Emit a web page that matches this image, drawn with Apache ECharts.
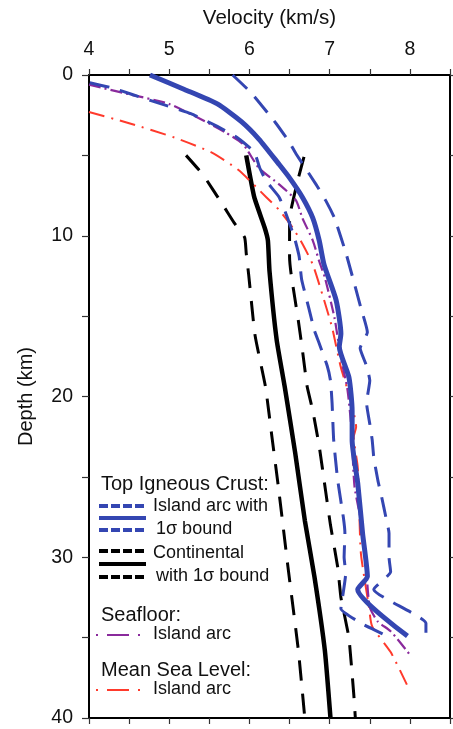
<!DOCTYPE html>
<html>
<head>
<meta charset="utf-8">
<script src="https://cdn.jsdelivr.net/npm/echarts@6/dist/echarts.min.js"></script>
<style>
html,body{margin:0;padding:0;background:#fff;}
#chart{width:453px;height:729px;}
</style>
</head>
<body>
<div id="chart"></div>
<script>
// ---- Data (depth km, velocity km/s) ----
const iaMeanDepth = [0,0.9,1.8,2.9,4.0,5.5,6.4,7.6,8.9,10.3,11.8,14,16.1,16.9,18.8,20.9,22.7,25.4,28.5,31.2,32.0,34.9];
const iaMeanVel   = [4.76,5.19,5.6,5.9,6.12,6.36,6.5,6.66,6.79,6.87,6.93,7.08,7.14,7.12,7.24,7.28,7.28,7.35,7.41,7.47,7.35,7.97];

const iaUpperDepth = [0,1.1,3.0,4.2,4.9,6.8,7.8,8.9,11.2,14.5,16,17,18.1,19,20.4,21.7,22.7,23.8,25.2,26.3,27.5,28.5,30,30.9,32,34.1,34.7];
const iaUpperVel   = [5.79,6.02,6.33,6.5,6.58,6.83,6.95,7.06,7.21,7.39,7.47,7.38,7.46,7.5,7.46,7.5,7.53,7.55,7.6,7.65,7.7,7.74,7.74,7.76,7.55,8.2,8.2];

const iaLowerDepth = [0.48,0.79,1.2,1.8,2.4,3.2,3.9,4.8,5.8,6.6,7.6,8.7,10.1,11.3,12.7,14.5,15.9,16.7,18.1,19,20.4,22.7,25.2,27.5,28.5,30,31,32.5,33.2,34.1,34.5,35];
const iaLowerVel   = [4.01,4.28,4.53,4.9,5.27,5.6,5.85,6.06,6.13,6.21,6.37,6.46,6.56,6.62,6.65,6.74,6.81,6.87,6.97,7.01,7.03,7.05,7.1,7.17,7.19,7.18,7.2,7.16,7.14,7.39,7.55,7.76];

const contMeanDepth = [5.0,7.6,9.5,10.3,12.2,16.5,19.4,23.5,27.7,31.2,35.8,40];
const contMeanVel   = [5.96,6.06,6.19,6.23,6.25,6.34,6.44,6.57,6.69,6.81,6.94,7.01];

const contLowerDepth = [5.0,6.2,8.1,9.2,10.1,11.1,12.4,16.2,19.4,22.5,25.6,30.6,35.8,40];
const contLowerVel   = [5.21,5.42,5.67,5.81,5.94,5.96,5.99,6.07,6.2,6.28,6.36,6.48,6.61,6.69];

const contUpperDepth = [5.1,6.6,8.9,9.9,11.3,12.4,15.3,17.1,19.4,20.9,23.1,25.9,28,30.6,32.5,35,38.5,40];
const contUpperVel   = [6.68,6.6,6.5,6.5,6.5,6.52,6.61,6.66,6.72,6.79,6.87,6.95,7.01,7.1,7.14,7.24,7.3,7.32];

const seafloorDepth = [0.6,1.2,1.8,3.1,3.6,4.3,5.8,6.8,7.8,8.9,10.3,11.6,12.6,15.1,17.6,19.5,21.9,25.6,28.5,31,33.1,34,34.6,36];
const seafloorVel   = [4.0,4.5,5.0,5.53,5.71,5.92,6.12,6.37,6.58,6.66,6.79,6.87,6.94,7.06,7.14,7.22,7.27,7.31,7.42,7.46,7.5,7.6,7.76,7.99];

const mslDepth = [2.3,3.0,3.9,4.8,5.9,7.6,8.4,9.5,10.5,11.8,14,15.7,18.2,20.2,21.9,22.5,24.4,27.3,29.8,33.1,34.3,35.9,38];
const mslVel   = [4.0,4.5,5.07,5.52,5.86,6.21,6.37,6.54,6.66,6.79,6.93,7.03,7.14,7.26,7.33,7.3,7.35,7.37,7.39,7.49,7.53,7.76,7.97];

const xTicksMin = 4, xTicksMax = 8.5;
const yTicksMin = 0, yTicksMax = 40;

// legend texts
const legendTitles = ["Top Igneous Crust:", "Seafloor:", "Mean Sea Level:"];
const legendItems = ["Island arc with", "1σ bound", "Continental", "with 1σ bound", "Island arc", "Island arc"];

function pairs(d, v){ return d.map((dd,i)=>[v[i], dd]); }

const FONT = '"Liberation Sans", Arial, sans-serif';
const BLUE = '#3446b2';
const PURPLE = '#8a2a9c';
const RED = '#ff3a2c';

const chart = echarts.init(document.getElementById('chart'), null, {renderer:'canvas'});

function ln(name, d, v, color, width, type, sm){
  return {
    name, type:'line', data: pairs(d,v), showSymbol:false, symbol:'none',
    xAxisIndex:0, yAxisIndex:0, smooth: sm, animation:false,
    lineStyle:{color, width, type, cap:'butt', join:'round'}, z: 3
  };
}

const axisLineStyle = {lineStyle:{color:'#000', width:2}};
const intLabel = v => (Math.abs(v - Math.round(v)) < 1e-6 ? String(Math.round(v)) : '');
const tenLabel = v => (v % 10 === 0 ? String(v) : '');

const legendGraphics = [];
function gText(x,y,t,size){
  legendGraphics.push({type:'text', left:x, top:y - size*0.6, z:10,
    style:{text:t, font: size+'px '+FONT, fill:'#111'}});
}
function gLine(y, color, width, dash){
  legendGraphics.push({type:'line', z:10, shape:{x1:99,y1:y,x2:146,y2:y},
    style:{stroke:color, lineWidth:width, lineDash:dash || null}});
}
gText(101, 486, legendTitles[0], 20);
gLine(506, BLUE, 4, [9,3]);
gLine(518, BLUE, 4, null);
gLine(530, BLUE, 4, [9,3]);
gText(153, 508, legendItems[0], 18);
gText(156, 531, legendItems[1], 18);
gLine(551, '#000', 4, [9,3]);
gLine(564, '#000', 4, null);
gLine(577, '#000', 4, [9,3]);
gText(153, 555, legendItems[2], 18);
gText(156, 578, legendItems[3], 18);
gText(101, 617, legendTitles[1], 20);
legendGraphics.push({type:'line', z:10, shape:{x1:96,y1:635,x2:142,y2:635},
  style:{stroke:PURPLE, lineWidth:2, lineDash:[2,9,22,9,2,20]}});
gText(153, 636, legendItems[4], 18);
gText(101, 672, legendTitles[2], 20);
legendGraphics.push({type:'line', z:10, shape:{x1:96,y1:690,x2:142,y2:690},
  style:{stroke:RED, lineWidth:2, lineDash:[2,9,22,9,2,20]}});
gText(153, 691, legendItems[5], 18);

const option = {
  animation:false,
  backgroundColor:'#fff',
  textStyle:{fontFamily:FONT},
  grid:{left:89, right:2, top:75, bottom:11, containLabel:false},
  xAxis:[
    {type:'value', position:'top', min:xTicksMin, max:xTicksMax, interval:0.5,
     name:'Velocity (km/s)', nameLocation:'middle', nameGap:46,
     nameTextStyle:{fontSize:20.5, color:'#111', fontFamily:FONT},
     axisLine:{show:true, onZero:false, ...axisLineStyle},
     axisTick:{show:true, inside:false, length:6, lineStyle:{color:'#333', width:1.2}},
     axisLabel:{formatter:intLabel, fontSize:19.5, color:'#111', margin:15, fontFamily:FONT, showMaxLabel:true},
     splitLine:{show:false}},
    {type:'value', position:'bottom', min:xTicksMin, max:xTicksMax, interval:0.5,
     axisLine:{show:true, onZero:false, ...axisLineStyle},
     axisTick:{show:true, inside:false, length:6, lineStyle:{color:'#333', width:1.2}},
     axisLabel:{show:false}, splitLine:{show:false}}
  ],
  yAxis:[
    {type:'value', inverse:true, min:yTicksMin, max:yTicksMax, interval:5,
     name:'Depth (km)', nameLocation:'middle', nameGap:53, nameRotate:90,
     nameTextStyle:{fontSize:20, color:'#111', fontFamily:FONT},
     axisLine:{show:true, onZero:false, ...axisLineStyle},
     axisTick:{show:true, inside:false, length:7, lineStyle:{color:'#333', width:1.2}},
     axisLabel:{formatter:tenLabel, fontSize:19.5, color:'#111', margin:16, fontFamily:FONT},
     splitLine:{show:false}},
    {type:'value', inverse:true, position:'right', min:yTicksMin, max:yTicksMax, interval:5,
     axisLine:{show:true, onZero:false, ...axisLineStyle},
     axisTick:{show:true, inside:false, length:6, lineStyle:{color:'#333', width:1.2}},
     axisLabel:{show:false}, splitLine:{show:false}}
  ],
  series:[
    ln('Continental lower', contLowerDepth, contLowerVel, '#000', 3, [20,13], 0.15),
    ln('Continental upper', contUpperDepth, contUpperVel, '#000', 3, [20,13], 0.1),
    ln('Continental', contMeanDepth, contMeanVel, '#000', 4.5, 'solid', 0.15),
    ln('MSL', mslDepth, mslVel, RED, 2, [16,7,2,7], 0.2),
    ln('Seafloor', seafloorDepth, seafloorVel, PURPLE, 2.2, [12,4,2,4], 0.2),
    ln('Island arc lower', iaLowerDepth, iaLowerVel, BLUE, 3, [20,11], 0.15),
    ln('Island arc upper', iaUpperDepth, iaUpperVel, BLUE, 3, [20,11], 0.15),
    ln('Island arc', iaMeanDepth, iaMeanVel, BLUE, 5, 'solid', 0.2)
  ],
  graphic: legendGraphics
};
chart.setOption(option);
</script>
</body>
</html>
